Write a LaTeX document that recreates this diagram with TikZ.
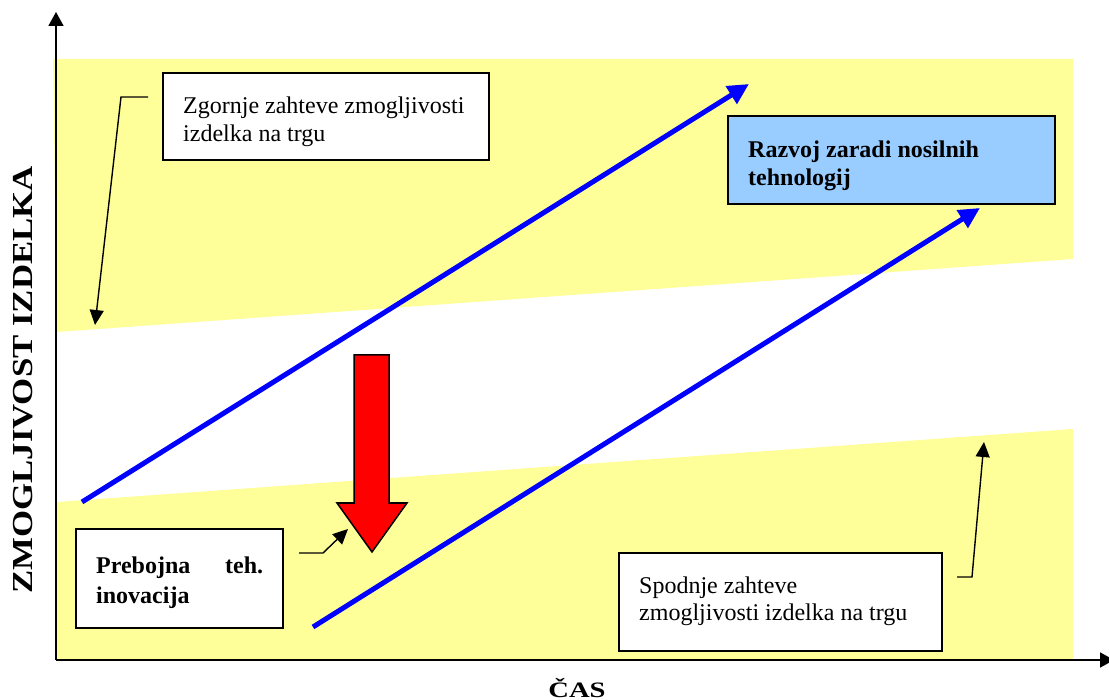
\documentclass[tikz,border=0pt]{standalone}
\usepackage{fontspec}
\usepackage{graphicx}
\setmainfont{Liberation Serif}
\usetikzlibrary{arrows.meta}

\definecolor{bandyellow}{HTML}{FFFF99}
\definecolor{boxblue}{HTML}{99CCFF}
\definecolor{trendblue}{HTML}{0000FF}

\tikzset{
  band/.style={fill=bandyellow, draw=none},
  axis/.style={line width=1.8pt, -{Triangle[length=14pt,width=15pt]}},
  trend/.style={line width=5pt, trendblue, -{Triangle[length=21pt,width=20pt]}},
  callout/.style={line width=1.4pt, -{Triangle[length=15pt,width=14pt]}},
  infobox/.style={draw, line width=1.8pt, fill=white, rectangle, inner sep=0pt},
  boxtext/.style={anchor=north west, inner sep=0pt, align=left, font=\fontsize{24}{28}\selectfont},
}

\begin{document}
\begin{tikzpicture}[x=1pt,y=-1pt]
\useasboundingbox (0,0) rectangle (1109,700);

% requirement bands
\fill[band] (53,59) -- (1073,59) -- (1073,259) -- (57,332) -- cycle;
\fill[band] (57,502) -- (1073,429) -- (1073,660) -- (57,660) -- cycle;

% axes
\coordinate (origin) at (56,660);
\coordinate (ytop) at (56,12);
\coordinate (xend) at (1114,660);
\draw[axis] (origin) -- (ytop);
\draw[axis] (origin) -- (xend);

\node[font=\fontsize{22}{24}\selectfont\bfseries, anchor=base] (xlabel) at (577,697) {\scalebox{1.3}[1]{ČAS}};
\node[font=\fontsize{29}{30}\selectfont\bfseries, rotate=90, anchor=base] (ylabel) at (32,380) {\scalebox{1.2}[1]{ZMOGLJIVOST IZDELKA}};

% technology trend lines
\coordinate (t1s) at (82,502);
\coordinate (t1e) at (749,84);
\coordinate (t2s) at (313,627);
\coordinate (t2e) at (980,208);
\draw[trend] (t1s) -- (t1e);
\draw[trend] (t2s) -- (t2e);

% breakthrough arrow
\draw[fill=red, line width=1.5pt, line join=miter]
  (354,355) -- (389,355) -- (389,503) -- (407,503) -- (372,552) -- (337,503) -- (354,503) -- cycle;

% text boxes
\node[infobox, minimum width=326pt, minimum height=87pt] (upper) at (326,116.5) {};
\node[boxtext] (uppertext) at (183,96.5) {Zgornje zahteve zmogljivosti\\izdelka na trgu};

\node[infobox, fill=boxblue, minimum width=327pt, minimum height=88pt] (carrier) at (891.5,160) {};
\node[boxtext, font=\fontsize{24}{28}\selectfont\bfseries] (carriertext) at (748,140.5) {Razvoj zaradi nosilnih\\tehnologij};

\node[infobox, minimum width=207pt, minimum height=99pt] (breakthrough) at (179.5,578.5) {};
\node[boxtext, font=\fontsize{24}{30}\selectfont\bfseries, text width=167pt] (breakthroughtext) at (96,556.5) {Prebojna\hfill teh.\\inovacija};

\node[infobox, minimum width=323pt, minimum height=98pt] (lower) at (780.5,602) {};
\node[boxtext, font=\fontsize{24}{27.5}\selectfont] (lowertext) at (639,576.5) {Spodnje zahteve\\zmogljivosti izdelka na trgu};

% callout leaders
\coordinate (c1a) at (148,97);
\coordinate (c1b) at (121,97);
\coordinate (c1c) at (95,325);
\draw[callout] (c1a) -- (c1b) -- (c1c);

\coordinate (c2a) at (299,553);
\coordinate (c2b) at (323,553);
\coordinate (c2c) at (348,529);
\draw[callout] (c2a) -- (c2b) -- (c2c);

\coordinate (c3a) at (957,577);
\coordinate (c3b) at (972,577);
\coordinate (c3c) at (984,442);
\draw[callout] (c3a) -- (c3b) -- (c3c);
\end{tikzpicture}
\end{document}
